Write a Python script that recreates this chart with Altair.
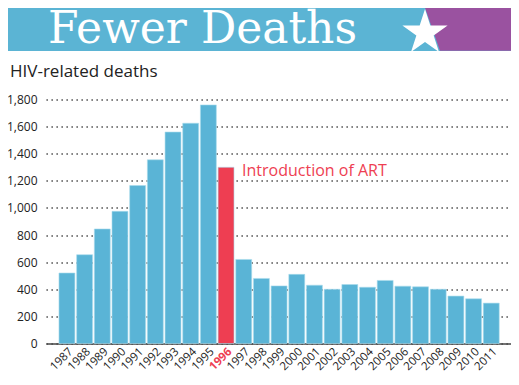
import altair as alt
import pandas as pd

years = [str(y) for y in range(1987, 2012)]
deaths = [520, 655, 845, 975, 1165, 1355, 1560, 1625, 1760, 1300,
          620, 480, 425, 510, 430, 400, 435, 415, 465, 423, 418, 400, 350, 330, 298]
highlight_year = "1996"
annotation = "Introduction of ART"
banner_title = "Fewer Deaths"
subtitle = "HIV-related deaths"
y_ticks = list(range(0, 1801, 200))

BLUE = "#5ab4d6"
RED = "#ee3e52"
PURPLE = "#9a52a0"

df = pd.DataFrame({"year": years, "deaths": deaths})
df["label"] = [annotation if y == highlight_year else "" for y in years]

x_enc = alt.X("year:N", sort=years,
              scale=alt.Scale(paddingInner=0.1, paddingOuter=0.7, align=0.524),
              axis=alt.Axis(title=None, labelAngle=-45, ticks=False,
                            domainColor="#444", domainWidth=1.5,
                            labelFont="Open Sans", labelFontSize=11.5,
                            labelPadding=2,
                            labelColor={"expr": f"datum.value == '{highlight_year}' ? '{RED}' : '#222'"},
                            labelFontWeight={"expr": f"datum.value == '{highlight_year}' ? 'bold' : 'normal'"}))
y_enc = alt.Y("deaths:Q", scale=alt.Scale(domain=[0, 1800], nice=False),
              axis=alt.Axis(title=None, values=y_ticks, domain=False,
                            labelExpr="format(datum.value, ',')",
                            labelOverlap=False,
                            ticks=False, grid=True, gridDash=[1.3, 3.7],
                            gridColor="#333", gridWidth=1.3,
                            labelFont="Open Sans", labelFontSize=12,
                            labelColor="#222", labelPadding=9))

base = alt.Chart(df).encode(x=x_enc, y=y_enc)

bars = base.mark_bar(stroke="#a9dbec", strokeWidth=0.6).encode(
    color=alt.condition(alt.datum.year == highlight_year, alt.value(RED), alt.value(BLUE)),
)

ann = base.mark_text(
    align="left", baseline="middle", dx=16, dy=4, font="Open Sans", fontSize=16, color=RED
).encode(text="label:N")

one = alt.Data(values=[{}])
banner = alt.Chart(one).mark_rect(color="#5bb4d4").encode(
    x=alt.value(-40), x2=alt.value(480), y=alt.value(-92), y2=alt.value(-48.5))
purple = alt.Chart(one).mark_point(
    shape="M-4.7,-2.15L5,-2.15L5,2.15L-3.2,2.15Z", size=400, filled=True,
    color=PURPLE, opacity=1, strokeWidth=0).encode(x=alt.value(426), y=alt.value(-70.2))
star = alt.Chart(one).mark_point(
    shape="M0,-1L0.2245,-0.309L0.951,-0.309L0.363,0.118L0.588,0.809L0,0.382L-0.588,0.809L-0.363,0.118L-0.951,-0.309L-0.2245,-0.309Z",
    size=2266, filled=True, color="white", opacity=1, strokeWidth=0).encode(
    x=alt.value(379), y=alt.value(-66.7))
title_txt = alt.Chart(one).mark_text(
    text=banner_title, font="DejaVu Serif", fontSize=44, color="white",
    align="left", baseline="alphabetic").encode(x=alt.value(2), y=alt.value(-57))
sub_txt = alt.Chart(one).mark_text(
    text=subtitle, font="Open Sans", fontSize=17, color="#222",
    align="left", baseline="alphabetic").encode(x=alt.value(-36), y=alt.value(-22.5))

chart = alt.layer(bars, ann, banner, purple, star, title_txt, sub_txt).properties(
    width=465, height=244,
    padding={"left": 38, "top": 91.5, "right": 0, "bottom": 29},
    autosize=alt.AutoSizeParams(type="none"),
).configure_view(stroke=None)

chart.save("out.html", embed_options={"renderer": "svg", "actions": False})
